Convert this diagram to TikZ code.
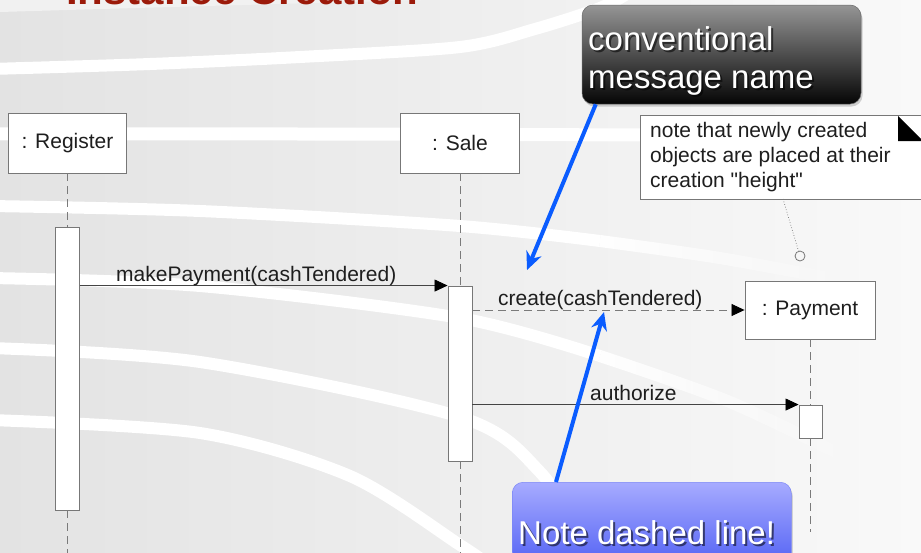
\documentclass[tikz,border=0pt]{standalone}
\usepackage{fontspec}
\setmainfont{Liberation Sans}
\newfontfamily\notefont{Liberation Sans}
\usetikzlibrary{arrows.meta,calc,shadows,fadings}

\definecolor{bgleft}{HTML}{E3E3E3}
\definecolor{bgmid}{HTML}{EBEBEB}
\definecolor{bgright}{HTML}{F9F9F9}
\definecolor{bgtop}{HTML}{F1F1F1}
\definecolor{boxgray}{HTML}{777777}
\definecolor{lifegray}{HTML}{7A7A7A}
\definecolor{msggray}{HTML}{444444}
\definecolor{textgray}{HTML}{1E1E1E}
\definecolor{pointblue}{HTML}{0A5CFF}
\definecolor{titlered}{HTML}{9B1A0A}
\definecolor{darktop}{HTML}{959595}
\definecolor{darkbot}{HTML}{050505}
\definecolor{bluetop}{HTML}{A7ABFF}
\definecolor{bluebot}{HTML}{4254F2}

\begin{document}
\begin{tikzpicture}[x=1pt,y=-1pt,
  objbox/.style={draw=boxgray, fill=white, line width=0.9pt, inner sep=0pt,
    font=\fontsize{21}{25}\selectfont, text=textgray},
  actbar/.style={draw=boxgray, fill=white, line width=0.9pt, inner sep=0pt, minimum width=24pt},
  lifeline/.style={draw=lifegray, line width=0.9pt, dash pattern=on 8pt off 5pt},
  msg/.style={draw=msggray, line width=0.8pt, -{Triangle[length=13pt,width=12pt,color=black]}},
  lbl/.style={font=\fontsize{21}{25}\selectfont, text=textgray, inner sep=0pt},
  pointer/.style={draw=pointblue, line width=4pt, -{Stealth[length=18pt,width=16pt]}},
  band/.style={draw=white, line width=12pt},
  calltext/.style={font=\fontsize{33}{38}\selectfont, text=white, inner sep=0pt, align=left},
  callshadow/.style={font=\fontsize{33}{38}\selectfont, text=black, opacity=0.55, inner sep=0pt, align=left}
]
\useasboundingbox (0,0) rectangle (921,552);
\clip (0,0) rectangle (921,552);

% slide background with white swooshes
\shade[left color=bgleft, middle color=bgmid, right color=bgright] (0,0) rectangle (921,552);
\fill[bgtop] (0,0) -- (0,12) .. controls (200,6) and (350,2) .. (470,-1) -- cycle;
\draw[band] plot[smooth] coordinates {(-10,69) (150,64) (300,57) (460,47) (535,29) (600,8) (630,-8)};
\draw[band, line width=13pt] plot[smooth] coordinates {(-10,134) (300,134) (660,135)};
\draw[band] plot[smooth] coordinates {(-10,206) (200,211) (460,226) (600,241)};
\draw[band, path fading=east] plot[smooth] coordinates {(600,241) (720,258) (850,282)};
\draw[band] plot[smooth] coordinates {(-10,278) (200,286) (460,318) (600,356)};
\draw[band, path fading=east] plot[smooth] coordinates {(600,356) (730,402) (860,464)};
\draw[band] plot[smooth] coordinates {(-10,348) (200,362) (460,417) (540,472) (600,562)};
\draw[band] plot[smooth] coordinates {(-10,420) (200,433) (350,476) (460,545) (485,562)};

% slide title (runs off the top edge)
\node[anchor=base west, inner sep=0pt, text=titlered,
      font=\fontsize{42}{46}\selectfont\bfseries] (title) at (66,4) {Instance Creation};

% lifeline heads
\node[objbox, minimum width=118pt, minimum height=60pt] (reg) at (67.5,143) {: Register};
\node[objbox, minimum width=119pt, minimum height=60pt] (sale) at (460,143) {: Sale};
\node[objbox, minimum width=130pt, minimum height=58pt] (pay) at (810,310) {: Payment};

% activation bars
\node[actbar, minimum height=283pt] (regbar) at (67.5,368.5) {};
\node[actbar, minimum height=175pt] (salebar) at (460,373.5) {};
\node[actbar, minimum width=23pt, minimum height=33pt] (paybar) at (810.5,421.5) {};

\coordinate (regend) at (67.5,560);
\coordinate (saleend) at (460,560);
\coordinate (payend) at (810.5,532);

% dashed lifelines
\draw[lifeline] (reg.south) -- (regbar.north);
\draw[lifeline] (regbar.south) -- (regend);
\draw[lifeline] (sale.south) -- (salebar.north);
\draw[lifeline] (salebar.south) -- (saleend);
\draw[lifeline] (pay.south -| paybar.north) -- (paybar.north);
\draw[lifeline] (paybar.south) -- (payend);

% messages
\draw[msg] (regbar.east |- salebar.north) -- (salebar.north west);
\node[lbl, anchor=base west] (mplbl) at (116,281) {makePayment(cashTendered)};
\draw[msg, dash pattern=on 8pt off 5pt, draw=lifegray] (salebar.east |- pay.west) -- (pay.west);
\node[lbl, anchor=base west] (crlbl) at (498,305) {create(cashTendered)};
\draw[msg] (salebar.east |- paybar.north) -- (paybar.north west);
\node[lbl, anchor=base west] (aulbl) at (590,400) {authorize};

% UML note with folded corner
\node[draw=boxgray, fill=white, line width=0.9pt, anchor=north west,
      minimum width=300pt, minimum height=84pt, inner sep=0pt] (note) at (640,115) {};
\fill[black] (898,116) -- (898,141) -- (923,141) -- cycle;
\node[lbl, anchor=north west, align=left, font=\notefont\fontsize{21}{25}\selectfont] (notetext) at (650,122.5)
  {note that newly created\\objects are placed at their\\creation "height"};
\node[draw=boxgray, line width=0.8pt, circle, minimum size=10pt, inner sep=0pt] (anchorpt) at (800,256) {};
\coordinate (notefoot) at (783,199);
\draw[boxgray, line width=0.7pt, dotted] (notefoot) -- (anchorpt);

% callout: conventional message name
\node[rounded corners=11pt, minimum width=279pt, minimum height=99pt, inner sep=0pt,
      top color=darktop, bottom color=darkbot, draw=darkbot!60, line width=0.5pt,
      drop shadow={opacity=0.35, shadow xshift=1.5pt, shadow yshift=-2.5pt}] (conv) at (721.5,54.5) {};
\node[callshadow, anchor=north west] (convshade) at (590,28.5) {conventional\\message name};
\node[calltext, anchor=north west] (convtext) at (588,26.5) {conventional\\message name};

% callout: note dashed line
\node[rounded corners=11pt, minimum width=279pt, minimum height=100pt, inner sep=0pt, anchor=north west,
      top color=bluetop, bottom color=bluebot, draw=bluebot!70, line width=0.5pt,
      drop shadow={opacity=0.3, shadow xshift=1.5pt, shadow yshift=-2.5pt}] (dashnote) at (512,482) {};
\node[callshadow, anchor=base west] (dashshade) at (520,546) {Note dashed line!};
\node[calltext, anchor=base west] (dashtext) at (518,544) {Note dashed line!};

% blue pointers
\coordinate (tipcreate) at (527,270);
\coordinate (tipdash) at (604,312);
\draw[pointer] ([xshift=14pt]conv.south west) -- (tipcreate);
\draw[pointer] ([xshift=44pt]dashnote.north west) -- (tipdash);
\end{tikzpicture}
\end{document}
